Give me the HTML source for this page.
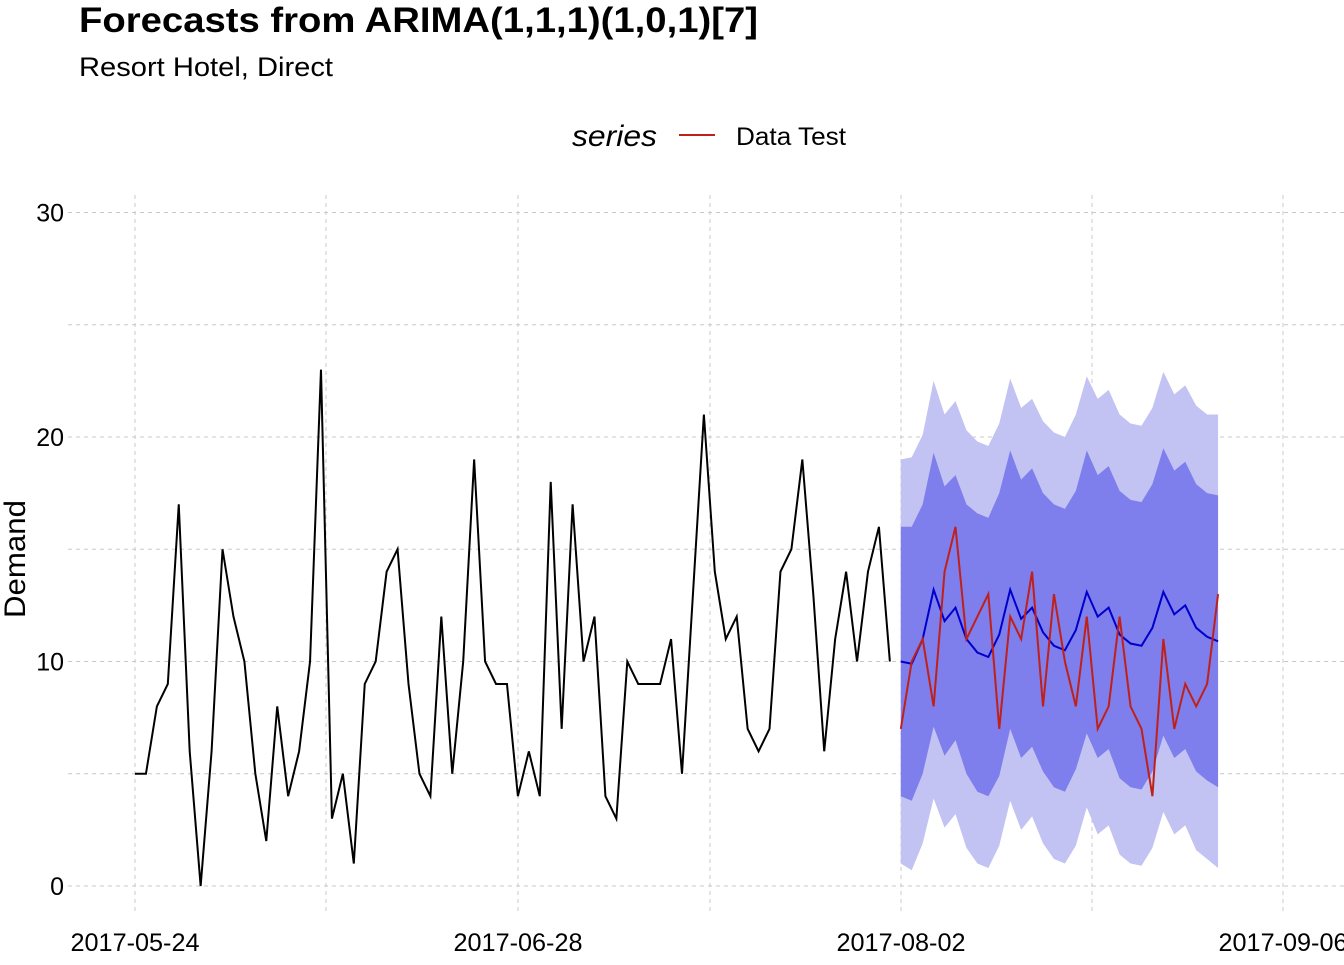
<!DOCTYPE html>
<html><head><meta charset="utf-8"><style>
body{margin:0;background:#fff;}
text{font-family:"Liberation Sans",sans-serif;}
</style></head><body>
<svg id="s" width="1344" height="960" xmlns="http://www.w3.org/2000/svg">
<rect width="1344" height="960" fill="#fff"/>
<text x="79" y="32" font-size="35" font-weight="bold" fill="#000" textLength="679" lengthAdjust="spacingAndGlyphs">Forecasts from ARIMA(1,1,1)(1,0,1)[7]</text>
<text x="79" y="76" font-size="27" fill="#000" textLength="254" lengthAdjust="spacingAndGlyphs">Resort Hotel, Direct</text>
<text x="572" y="146" font-size="30" font-style="italic" fill="#000" textLength="85" lengthAdjust="spacingAndGlyphs">series</text>
<line x1="679" y1="135" x2="715" y2="135" stroke="#c0201a" stroke-width="2"/>
<text x="736" y="145" font-size="25" fill="#000" textLength="110" lengthAdjust="spacingAndGlyphs">Data Test</text>
<text x="25" y="559" font-size="30" fill="#000" transform="rotate(-90 25 559)" text-anchor="middle" textLength="118" lengthAdjust="spacingAndGlyphs">Demand</text>
<g id="grid"></g><g id="data"></g>
</svg>
<script>
const NS="http://www.w3.org/2000/svg";
const X0=135,DX=10.94,Y0=886,DY=22.45;
const X=i=>X0+DX*i, Y=v=>Y0-DY*v;
function el(t,a,p){const e=document.createElementNS(NS,t);for(const k in a)e.setAttribute(k,a[k]);(p||document.getElementById('data')).appendChild(e);return e;}
const g=document.getElementById('grid');
for(let v=0;v<=30;v+=5){el('line',{x1:68,x2:1344,y1:Y(v),y2:Y(v),stroke:'#c8c8c8','stroke-dasharray':'4,4'},g);
 if(v%10==0){const t=el('text',{x:64,y:Y(v)+9,'font-size':25,'text-anchor':'end',fill:'#000'},g);t.textContent=v;}}
[135,326,518,710,901,1092,1283].forEach(x=>el('line',{x1:x,x2:x,y1:195,y2:915,stroke:'#c8c8c8','stroke-dasharray':'4,4'},g));
[[135,'2017-05-24'],[518,'2017-06-28'],[901,'2017-08-02'],[1283,'2017-09-06']].forEach(([x,s])=>{const t=el('text',{x:x,y:951,'font-size':25,'text-anchor':'middle',fill:'#000',textLength:129,lengthAdjust:'spacingAndGlyphs'},g);t.textContent=s;});
const hist=[5,5,8,9,17,6,0,6,15,12,10,5,2,8,4,6,10,23,3,5,1,9,10,14,15,9,5,4,12,5,10,19,10,9,9,4,6,4,18,7,17,10,12,4,3,10,9,9,9,11,5,13,21,14,11,12,7,6,7,14,15,19,13,6,11,14,10,14,16,10];
const mean=[10,9.9,11,13.2,11.8,12.4,11,10.4,10.2,11.2,13.2,11.9,12.4,11.3,10.7,10.5,11.4,13.1,12,12.4,11.2,10.8,10.7,11.5,13.1,12.1,12.5,11.5,11.1,10.9];
const u80=[16,16,17,19.3,17.8,18.3,17,16.6,16.4,17.5,19.4,18.1,18.6,17.5,17,16.8,17.6,19.4,18.3,18.7,17.6,17.2,17.1,17.9,19.5,18.5,18.9,17.9,17.5,17.4];
const u95=[19,19.1,20.1,22.5,21,21.6,20.3,19.8,19.6,20.6,22.6,21.3,21.7,20.7,20.2,20,21,22.7,21.7,22.1,21,20.6,20.5,21.3,22.9,21.9,22.3,21.4,21,21];
const test=[7,10,11,8,14,16,11,12,13,7,12,11,14,8,13,10,8,12,7,8,12,8,7,4,11,7,9,8,9,13];
const F=i=>X(70+i);
function band(u,c){let p=u.map((v,i)=>F(i)+','+Y(v));let l=u.map((v,i)=>F(i)+','+Y(2*mean[i]-v)).reverse();el('polygon',{points:p.concat(l).join(' '),fill:c});}
band(u95,'#c2c2f3');band(u80,'#7e7eec');
el('polyline',{points:hist.map((v,i)=>X(i)+','+Y(v)).join(' '),fill:'none',stroke:'#000','stroke-width':2});
el('polyline',{points:mean.map((v,i)=>F(i)+','+Y(v)).join(' '),fill:'none',stroke:'#0000cc','stroke-width':2});
el('polyline',{points:test.map((v,i)=>F(i)+','+Y(v)).join(' '),fill:'none',stroke:'#c0201a','stroke-width':2});
</script>
</body></html>
